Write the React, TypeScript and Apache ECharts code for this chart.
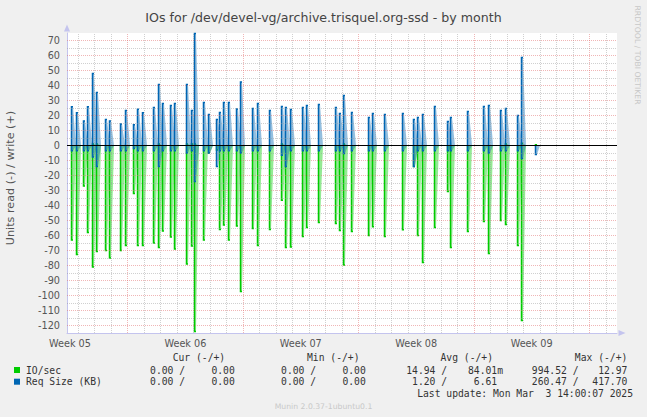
import React, { useEffect, useRef } from 'react';
import * as echarts from 'echarts';

// Position of each burst, in days (week boundaries fall on multiples of 7)
const spikeDays = [3.58, 3.85, 4.31, 4.55, 4.82, 5.06, 5.61, 5.85, 6.55, 6.84, 7.32, 7.58, 7.85, 8.55, 8.84, 9.08, 9.59, 9.83, 10.56, 10.82, 11.04, 11.59, 11.86, 12.34, 12.56, 12.81, 13.06, 13.57, 13.83, 14.56, 14.83, 15.59, 16.32, 16.56, 16.83, 17.59, 17.84, 18.56, 19.59, 19.84, 20.08, 20.57, 21.60, 21.84, 22.57, 23.62, 24.33, 24.57, 24.84, 25.60, 26.35, 26.57, 27.60, 28.57, 28.84, 29.60, 29.87, 30.60, 30.84, 31.71];
// IO/sec read (-)
const ioRead = [-63, -72.7, -27, -58, -81, -70.7, -70, -75, -70, -66.7, -32, -66.7, -66.7, -65, -68, -57, -61, -69, -79, -67, -124, -63, -5, -3, -56, -53, -63, -53.6, -97.3, -55.3, -66.7, -56, -36.5, -68, -67.6, -60.7, -54.7, -51.3, -52, -56.7, -79.6, -57.3, -60, -54.2, -60.7, -56.2, -14, -60, -78, -54.7, -30.7, -68, -57.3, -50.7, -72, -50, -52.7, -66.7, -116.7, 0];
// IO/sec write (+)
const ioWrite = [0, 0, 0, 0, 1, 1, 0, 0, 0, 0, 0, 0, 0, 0, 1, 0, 0, 0, 1, 1, 1, 0, 0, 0, 0, 0, 0, 0, 0, 0, 0, 0, 1, 0, 0, 0, 0, 0, 0, 0, 1, 0, 0, 0, 0, 0, 0, 0, 0, 0, 0, 0, 0, 0, 0, 0, 1, 0, 1.5, 0.5];
// Req Size read (-)
const reqRead = [-3.5, -3.5, -3.5, -3.5, -7.6, -14, -3.5, -3.5, -3.5, -3.5, -2, -3.5, -3.5, -3.5, -14, -3.5, -3.5, -3.5, -5, -3.5, -24, -3.5, -5, -14, -3.5, -3.5, -3.5, -3.5, -5, -3.5, -3.5, -3.5, -6.5, -14, -3.5, -3.5, -3.5, -3.5, -3.5, -3.5, -5.3, -3.5, -3.5, -3.5, -3.5, -3.5, -14, -3.5, -3.5, -3.5, -3.5, -3.5, -3.5, -3.5, -5, -3.5, -3.5, -3.5, -8.7, -6];
// Req Size write (+)
const reqWrite = [25.8, 21.8, 16.4, 25.8, 48, 35.3, 17.3, 16.4, 14.4, 23.3, 13.8, 24.2, 21.8, 25.3, 40.6, 28, 26.6, 28, 40.6, 23.3, 74.7, 28.7, 20.7, 17.3, 22, 28.7, 28.7, 24.4, 42.4, 24.6, 28, 23.3, 26, 25.3, 24, 25.3, 26.6, 27.3, 25.3, 21.3, 33.3, 22, 18.7, 21.3, 20.7, 21.3, 17.3, 18.7, 20.7, 26, 16, 18.7, 22.7, 26, 26.6, 23.3, 24.6, 20, 58.7, 0];

const weekLabelDays = [3.5, 10.5, 17.5, 24.5, 31.5];
const weekLabels = ['Week 05', 'Week 06', 'Week 07', 'Week 08', 'Week 09'];

const legendNames = ['IO/sec', 'Req Size (KB)'];
const curRead = ['0.00', '0.00'];
const curWrite = ['0.00', '0.00'];
const minRead = ['0.00', '0.00'];
const minWrite = ['0.00', '0.00'];
const avgRead = ['14.94', '1.20'];
const avgWrite = ['84.01m', '6.61'];
const maxRead = ['994.52', '260.47'];
const maxWrite = ['12.97', '417.70'];
const legendHeaders = ['Cur (-/+)', 'Min (-/+)', 'Avg (-/+)', 'Max (-/+)'];

const X_MIN = 3.32;
const X_MAX = 36.68;
const Y_MIN = -125;
const Y_MAX = 75;

const GREEN = '#00cc00';
const GREEN_LIGHT = 'rgba(0,204,0,0.42)';
const BLUE = '#0066b3';
const BLUE_LIGHT = 'rgba(0,102,179,0.42)';
const LEGEND_COLORS = [GREEN, BLUE];

const GRID_GREY = 'rgba(150,150,150,0.45)';
const GRID_PINK = 'rgba(225,110,110,0.5)';
const AXIS_COL = '#c4c4ee';

const SANS = '"DejaVu Sans", sans-serif';
const MONO = '"DejaVu Sans Mono", monospace';

function pairs(values: number[]) {
  return spikeDays.map((d, i) => [d, values[i]]).filter((p) => p[1] !== 0);
}

function renderSpike(dark: string, light: string) {
  return function (_params: any, api: any) {
    const t = api.value(0);
    const v = api.value(1);
    const base = api.coord([t, 0]);
    const tip = api.coord([t, v]);
    const x = Math.round(base[0]) + 0.5;
    const y0 = base[1];
    const y1 = tip[1];
    return {
      type: 'group',
      children: [
        {
          type: 'polygon',
          shape: { points: [[x, y0], [x, y1], [x + 1.5, y1], [x + 4.5, y0]] },
          style: { fill: light },
        },
        {
          type: 'polyline',
          shape: { points: [[x, y0], [x, y1], [x + 1.5, y1]] },
          style: { stroke: dark, lineWidth: 1.5, fill: null },
        },
      ],
    };
  };
}

function gridLines() {
  const out: any[] = [];
  for (let d = Math.ceil(X_MIN); d < X_MAX; d++) {
    out.push({ xAxis: d, lineStyle: { color: d % 7 === 0 ? GRID_PINK : GRID_GREY } });
  }
  for (let v = Y_MIN + 5; v < Y_MAX; v += 5) {
    out.push({ yAxis: v, lineStyle: { color: v % 10 === 0 ? GRID_PINK : GRID_GREY } });
  }
  return out;
}

function legendGraphics() {
  const els: any[] = [];
  const txt = (text: string, x: number, y: number, align: string) => ({
    type: 'text',
    x,
    y,
    silent: true,
    style: {
      text,
      fill: '#333',
      fontSize: 9.7,
      fontFamily: MONO,
      textAlign: align,
      align,
      textVerticalAlign: 'middle',
      verticalAlign: 'middle',
    },
  });
  const headerRight = [225.2, 359.5, 493, 627.3];
  const readRight = [185.1, 316.1, 447.1, 578.5];
  const writeRight = [240.6, 371.6, 503, 633.2];
  legendHeaders.forEach((h, i) => els.push(txt(h, headerRight[i], 357.7, 'right')));
  const rowY = [370, 381.7];
  const cols = [
    [curRead, curWrite],
    [minRead, minWrite],
    [avgRead, avgWrite],
    [maxRead, maxWrite],
  ];
  legendNames.forEach((name, r) => {
    els.push({
      type: 'rect',
      silent: true,
      shape: { x: 14, y: rowY[r] - 3, width: 6, height: 6 },
      style: { fill: LEGEND_COLORS[r] },
    });
    els.push(txt(name, 26, rowY[r], 'left'));
    cols.forEach((c, ci) => {
      els.push(txt(c[0][r] + ' /', readRight[ci], rowY[r], 'right'));
      const w = c[1][r];
      const shown = /[a-zA-Z]$/.test(w) ? w : w + '\u00a0';
      els.push(txt(shown, writeRight[ci], rowY[r], 'right'));
    });
  });
  els.push(txt('Last update: Mon Mar\u00a0 3 14:00:07 2025', 633, 393.3, 'right'));
  return els;
}

export default function App() {
  const ref = useRef<HTMLDivElement>(null);
  useEffect(() => {
    if (!ref.current) return;
    const chart = echarts.init(ref.current, null, { renderer: 'svg' });
    const option: any = {
      animation: false,
      backgroundColor: '#f0f0f0',
      title: {
        text: 'IOs for /dev/devel-vg/archive.trisquel.org-ssd - by month',
        left: 'center',
        top: 6,
        textStyle: { fontSize: 12.6, fontWeight: 'normal', color: '#444', fontFamily: SANS },
      },
      grid: {
        left: 67,
        top: 33,
        width: 550,
        height: 300,
        show: true,
        backgroundColor: '#ffffff',
        borderWidth: 0,
      },
      xAxis: {
        type: 'value',
        min: X_MIN,
        max: X_MAX,
        axisLine: {
          show: true,
          onZero: false,
          lineStyle: { color: AXIS_COL, width: 1 },
          symbol: ['none', 'triangle'],
          symbolSize: [6, 7],
          symbolOffset: [0, 5],
        },
        axisTick: { show: false },
        splitLine: { show: false },
        axisLabel: {
          customValues: weekLabelDays,
          formatter: (v: number) => {
            let best = -1;
            weekLabelDays.forEach((d, i) => {
              if (Math.abs(d - v) < 0.01) best = i;
            });
            return best >= 0 ? weekLabels[best] : '';
          },
          color: '#555',
          fontSize: 9.7,
          fontFamily: SANS,
          margin: 5,
        },
      },
      yAxis: {
        type: 'value',
        min: Y_MIN,
        max: Y_MAX,
        interval: 5,
        axisLine: {
          show: true,
          onZero: false,
          lineStyle: { color: AXIS_COL, width: 1 },
          symbol: ['none', 'triangle'],
          symbolSize: [6, 7],
          symbolOffset: [0, 5],
        },
        axisTick: { show: false },
        splitLine: { show: false },
        axisLabel: {
          formatter: (v: number) => (v % 10 === 0 && v > Y_MIN && v < Y_MAX ? String(v) : ''),
          color: '#555',
          fontSize: 9.7,
          fontFamily: SANS,
          margin: 7,
        },
      },
      series: [
        {
          type: 'line',
          data: [],
          z: 1,
          silent: true,
          markLine: {
            silent: true,
            symbol: ['none', 'none'],
            label: { show: false },
            lineStyle: { type: [1, 1], width: 1 },
            data: gridLines(),
          },
        },
        {
          type: 'custom',
          name: 'IO/sec read',
          z: 3,
          data: pairs(ioRead),
          encode: { x: 0, y: 1 },
          renderItem: renderSpike(GREEN, GREEN_LIGHT),
        },
        {
          type: 'custom',
          name: 'IO/sec write',
          z: 3,
          data: pairs(ioWrite),
          encode: { x: 0, y: 1 },
          renderItem: renderSpike(GREEN, GREEN_LIGHT),
        },
        {
          type: 'custom',
          name: 'Req Size read',
          z: 4,
          data: pairs(reqRead),
          encode: { x: 0, y: 1 },
          renderItem: renderSpike(BLUE, BLUE_LIGHT),
        },
        {
          type: 'custom',
          name: 'Req Size write',
          z: 4,
          data: pairs(reqWrite),
          encode: { x: 0, y: 1 },
          renderItem: renderSpike(BLUE, BLUE_LIGHT),
        },
        {
          type: 'line',
          data: [],
          z: 10,
          silent: true,
          markLine: {
            silent: true,
            symbol: ['none', 'none'],
            label: { show: false },
            lineStyle: { type: 'solid', width: 1, color: '#000' },
            data: [{ yAxis: 0 }],
          },
        },
      ],
      graphic: [
        {
          type: 'text',
          x: 10,
          y: 178,
          rotation: Math.PI / 2,
          silent: true,
          style: {
            text: 'Units read (-) / write (+)',
            fill: '#555',
            fontSize: 11.2,
            fontFamily: SANS,
            textAlign: 'center',
            align: 'center',
            textVerticalAlign: 'middle',
            verticalAlign: 'middle',
          },
        },
        {
          type: 'text',
          x: 637,
          y: 55,
          rotation: -Math.PI / 2,
          silent: true,
          style: {
            text: 'RRDTOOL / TOBI OETIKER',
            fill: '#c8c8c8',
            fontSize: 7.7,
            fontFamily: SANS,
            textAlign: 'center',
            align: 'center',
            textVerticalAlign: 'middle',
            verticalAlign: 'middle',
          },
        },
        {
          type: 'text',
          x: 323.5,
          y: 406,
          silent: true,
          style: {
            text: 'Munin 2.0.37-1ubuntu0.1',
            fill: '#c8c8c8',
            fontSize: 7.7,
            fontFamily: SANS,
            textAlign: 'center',
            align: 'center',
            textVerticalAlign: 'middle',
            verticalAlign: 'middle',
          },
        },
        ...legendGraphics(),
      ],
    };
    chart.setOption(option);
    return () => chart.dispose();
  }, []);
  return (
    <div
      ref={ref}
      style={{ position: 'fixed', left: 0, top: 0, width: 647, height: 417 }}
    />
  );
}
